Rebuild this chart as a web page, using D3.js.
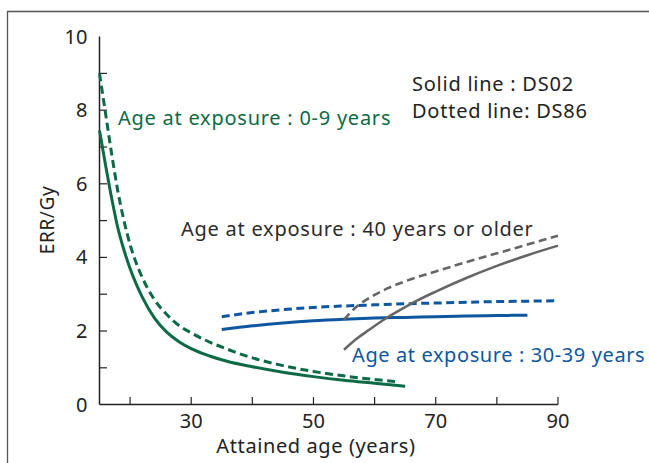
<!DOCTYPE html>
<html>
<head>
<meta charset="utf-8">
<script src="https://cdn.jsdelivr.net/npm/d3@7"></script>
<style>
body { margin:0; background:#fff; }
svg text { font-family: "Noto Sans", sans-serif; }
</style>
</head>
<body>
<svg></svg>
<script>
var screen = {width:649,height:463}
var margins = {top:36.6,left:99.5,right:91,bottom:58.4}

// attained age / ERR per Gy
var youngAges02 = [15,16,17,18,19,20,21,22,24,26,28,30,33,36,40,45,50,55,60,65]
var youngErr02  = [7.45,6.5,5.6,4.8,4.2,3.7,3.28,2.92,2.35,1.97,1.71,1.52,1.32,1.17,1.03,0.88,0.76,0.66,0.58,0.5]
var youngAges86 = [15,16,17,18,19,20,21,22,24,26,28,30,33,36,40,45,50,55,60,64]
var youngErr86  = [9.0,7.9,6.8,5.8,5.0,4.35,3.85,3.45,2.85,2.45,2.15,1.95,1.7,1.5,1.27,1.06,0.9,0.78,0.68,0.62]

var midAges02 = [35,40,45,50,55,60,65,70,75,80,85]
var midErr02  = [2.04,2.14,2.22,2.28,2.32,2.35,2.37,2.39,2.41,2.42,2.43]
var midAges86 = [35,40,45,50,55,60,65,70,75,80,85,90]
var midErr86  = [2.39,2.5,2.58,2.64,2.68,2.71,2.74,2.76,2.78,2.8,2.81,2.82]

var oldAges02 = [55,57,59,62,65,67,70,75,80,85,90]
var oldErr02  = [1.49,1.78,2.02,2.36,2.65,2.83,3.07,3.44,3.77,4.06,4.32]
var oldAges86 = [55,57,60,62,65,70,75,80,85,90]
var oldErr86  = [2.31,2.65,2.98,3.15,3.35,3.62,3.87,4.11,4.35,4.59]

var xLabelTicks = [30,50,70,90]
var xMinorTicks = [20,40,60,80]
var yLabelTicks = [0,2,4,6,8,10]
var yMinorTicks = [1,3,5,7,9]

var green = "#0c6a45"
var blue = "#0d56a0"
var gray = "#666666"

var zipUp = function(ages,vals)
{
    return ages.map(function(a,i){return [a,vals[i]]})
}

var series = [
    {pts:zipUp(youngAges02,youngErr02),color:green,dash:null,w:3},
    {pts:zipUp(youngAges86,youngErr86),color:green,dash:"8,4.5",w:3},
    {pts:zipUp(midAges02,midErr02),color:blue,dash:null,w:3},
    {pts:zipUp(midAges86,midErr86),color:blue,dash:"8,4.5",w:3},
    {pts:zipUp(oldAges02,oldErr02),color:gray,dash:null,w:2.6},
    {pts:zipUp(oldAges86,oldErr86),color:gray,dash:"8,4.5",w:2.6}
]

var width = screen.width - margins.left - margins.right
var height = screen.height - margins.top - margins.bottom

var svg = d3.select("svg")
    .attr("width",screen.width)
    .attr("height",screen.height)

// frame lines (top + left only)
svg.append("path")
   .attr("d","M7.5,463 L7.5,11.5 L649,11.5")
   .attr("fill","none")
   .attr("stroke","#555")
   .attr("stroke-width",1.3)

var xScale = d3.scaleLinear().domain([15,90]).range([0,width])
var yScale = d3.scaleLinear().domain([0,10]).range([height,0])

var graph = svg.append("g")
    .attr("transform","translate("+margins.left+","+margins.top+")")

// axis lines
graph.append("line")
     .attr("x1",0).attr("x2",0).attr("y1",0).attr("y2",height)
     .attr("stroke","#222").attr("stroke-width",1.5)
graph.append("line")
     .attr("x1",0).attr("x2",width).attr("y1",height).attr("y2",height)
     .attr("stroke","#222").attr("stroke-width",1.5)

var xTicks = xLabelTicks.concat(xMinorTicks)
graph.selectAll(".xtick")
     .data(xTicks)
     .enter()
     .append("line")
     .attr("x1",function(d){return xScale(d)})
     .attr("x2",function(d){return xScale(d)})
     .attr("y1",height)
     .attr("y2",height-7.5)
     .attr("stroke","#222").attr("stroke-width",1.2)

var yTicks = yMinorTicks.concat([2,4,6,8])
graph.selectAll(".ytick")
     .data(yTicks)
     .enter()
     .append("line")
     .attr("x1",0)
     .attr("x2",7.5)
     .attr("y1",function(d){return yScale(d)})
     .attr("y2",function(d){return yScale(d)})
     .attr("stroke","#222").attr("stroke-width",1.2)

graph.selectAll(".xlab")
     .data(xLabelTicks)
     .enter()
     .append("text")
     .attr("x",function(d){return xScale(d)})
     .attr("y",height+23)
     .attr("text-anchor","middle")
     .attr("font-size",20)
     .attr("fill","#222")
     .text(function(d){return d})

graph.selectAll(".ylab")
     .data(yLabelTicks)
     .enter()
     .append("text")
     .attr("x",-12)
     .attr("y",function(d){return yScale(d)+7})
     .attr("text-anchor","end")
     .attr("font-size",20)
     .attr("fill","#222")
     .text(function(d){return d})

svg.append("text")
   .attr("x",316)
   .attr("y",453)
   .attr("text-anchor","middle")
   .attr("font-size",20)
   .attr("letter-spacing",0.6)
   .attr("fill","#222")
   .text("Attained age (years)")

svg.append("text")
   .attr("transform","translate(54,220) rotate(-90)")
   .attr("text-anchor","middle")
   .attr("font-size",19)
   .attr("letter-spacing",0.6)
   .attr("fill","#222")
   .text("ERR/Gy")

var line = d3.line()
    .x(function(d){return xScale(d[0])})
    .y(function(d){return yScale(d[1])})
    .curve(d3.curveMonotoneX)

graph.selectAll(".series")
     .data(series)
     .enter()
     .append("path")
     .attr("d",function(s){return line(s.pts)})
     .attr("fill","none")
     .attr("stroke",function(s){return s.color})
     .attr("stroke-width",function(s){return s.w})
     .attr("stroke-dasharray",function(s){return s.dash})

var notes = [
    {text:"Age at exposure : 0-9 years",x:118,y:125,color:green,ls:0.75},
    {text:"Age at exposure : 40 years or older",x:181,y:236,color:"#2b2b2b",ls:0.75},
    {text:"Age at exposure : 30-39 years",x:352,y:362,color:blue,ls:0.6},
    {text:"Solid line : DS02",x:412,y:91,color:"#222",ls:0.75},
    {text:"Dotted line: DS86",x:412,y:118,color:"#222",ls:0.75}
]

svg.selectAll(".note")
   .data(notes)
   .enter()
   .append("text")
   .attr("x",function(n){return n.x})
   .attr("y",function(n){return n.y})
   .attr("font-size",20)
   .attr("letter-spacing",function(n){return n.ls})
   .attr("fill",function(n){return n.color})
   .text(function(n){return n.text})
</script>
</body>
</html>
